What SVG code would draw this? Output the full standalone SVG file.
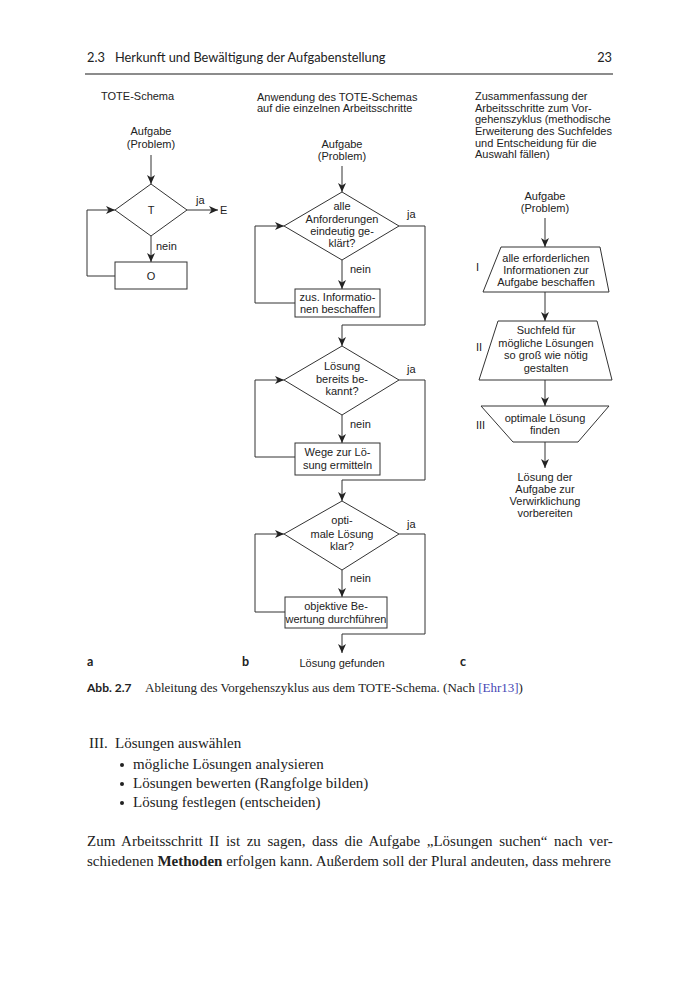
<svg xmlns="http://www.w3.org/2000/svg" width="700" height="1000" viewBox="0 0 700 1000">
<style>
.t{font-family:"Liberation Sans",Arial,sans-serif;font-size:11px;fill:#222}
.c{text-anchor:middle}
.sh{fill:none;stroke:#333;stroke-width:1}
.ln{fill:none;stroke:#333;stroke-width:1}
.hd{font-family:Lato,"Open Sans",sans-serif;font-size:12.8px;fill:#222}
.lb{font-family:Lato,"Open Sans",sans-serif;font-size:12.5px;font-weight:bold;fill:#222}
.sf{font-family:"Liberation Serif","Times New Roman",serif;font-size:15px;fill:#222}
.cap{font-family:"Liberation Serif","Times New Roman",serif;font-size:13px;fill:#222}
</style>
<defs>
<marker id="ah" markerWidth="10" markerHeight="8" refX="9" refY="4" orient="auto" markerUnits="userSpaceOnUse">
<path d="M0,0 L9,4 L0,8 L2.5,4 z" fill="#222"/>
</marker>
</defs>
<rect width="700" height="1000" fill="#fff"/>
<g id="header">
<text class="hd" x="87" y="62">2.3</text>
<text class="hd" x="115" y="62">Herkunft und Bewältigung der Aufgabenstellung</text>
<text class="hd" x="612" y="62" text-anchor="end">23</text>
<line x1="85" y1="74" x2="613" y2="74" stroke="#666" stroke-width="1.3"/>
</g>
<g id="titles">
<text class="t" x="101" y="100">TOTE-Schema</text>
<text class="t" x="257" y="101">Anwendung des TOTE-Schemas</text>
<text class="t" x="257" y="112">auf die einzelnen Arbeitsschritte</text>
<text class="t" x="475" y="100">Zusammenfassung der</text>
<text class="t" x="475" y="112">Arbeitsschritte zum Vor-</text>
<text class="t" x="475" y="123">gehenszyklus (methodische</text>
<text class="t" x="475" y="135">Erweiterung des Suchfeldes</text>
<text class="t" x="475" y="147">und Entscheidung für die</text>
<text class="t" x="475" y="158">Auswahl fällen)</text>
</g>
<g id="connectors">
<line class="ln" x1="151" y1="155" x2="151" y2="184" marker-end="url(#ah)"/>
<line class="ln" x1="187" y1="210" x2="218" y2="210" marker-end="url(#ah)"/>
<line class="ln" x1="151" y1="236" x2="151" y2="262" marker-end="url(#ah)"/>
<polyline class="ln" points="115,276 87,276 87,210 115,210" marker-end="url(#ah)"/>
<line class="ln" x1="342" y1="166" x2="342" y2="192" marker-end="url(#ah)"/>
<polyline class="ln" points="399,226 425,226 425,325 342,325 342,346" marker-end="url(#ah)"/>
<line class="ln" x1="342" y1="260" x2="342" y2="289" marker-end="url(#ah)"/>
<polyline class="ln" points="295,303 255,303 255,226 284,226" marker-end="url(#ah)"/>
<polyline class="ln" points="399,380 425,380 425,480 342,480 342,501" marker-end="url(#ah)"/>
<line class="ln" x1="342" y1="415" x2="342" y2="443" marker-end="url(#ah)"/>
<polyline class="ln" points="295,457 255,457 255,380 284,380" marker-end="url(#ah)"/>
<polyline class="ln" points="399,534 425,534 425,634 342,634 342,653" marker-end="url(#ah)"/>
<line class="ln" x1="342" y1="570" x2="342" y2="597" marker-end="url(#ah)"/>
<polyline class="ln" points="285,612 255,612 255,534 284,534" marker-end="url(#ah)"/>
<line class="ln" x1="545" y1="218" x2="545" y2="247" marker-end="url(#ah)"/>
<line class="ln" x1="545" y1="292" x2="545" y2="321" marker-end="url(#ah)"/>
<line class="ln" x1="545" y1="380" x2="545" y2="406" marker-end="url(#ah)"/>
<line class="ln" x1="545" y1="442" x2="545" y2="468" marker-end="url(#ah)"/>
</g>
<g id="a-start"><text class="t c" x="151" y="135">Aufgabe</text><text class="t c" x="151" y="148">(Problem)</text></g>
<g id="a-test"><polygon class="sh" points="151,184 187,210 151,236 115,210"/><text class="t c" x="151" y="214">T</text></g>
<g id="a-labels"><text class="t" x="196" y="204">ja</text><text class="t" x="220" y="214">E</text><text class="t" x="156" y="250">nein</text></g>
<g id="a-op"><rect class="sh" x="115" y="262" width="72" height="27"/><text class="t c" x="151" y="280">O</text></g>
<g id="b-start"><text class="t c" x="342" y="148">Aufgabe</text><text class="t c" x="342" y="160">(Problem)</text></g>
<g id="b-d1"><polygon class="sh" points="342,192 399,226 342,260 284,226"/>
<text class="t c" x="342" y="210">alle</text><text class="t c" x="342" y="223">Anforderungen</text><text class="t c" x="342" y="235">eindeutig ge-</text><text class="t c" x="342" y="247">klärt?</text></g>
<g id="b-l1"><text class="t" x="407" y="218">ja</text><text class="t" x="350" y="273">nein</text></g>
<g id="b-b1"><rect class="sh" x="295" y="289" width="85" height="28"/><text class="t c" x="337.5" y="301">zus. Informatio-</text><text class="t c" x="337.5" y="313">nen beschaffen</text></g>
<g id="b-d2"><polygon class="sh" points="342,346 399,380 342,415 284,380"/>
<text class="t c" x="342" y="370">Lösung</text><text class="t c" x="342" y="383">bereits be-</text><text class="t c" x="342" y="395">kannt?</text></g>
<g id="b-l2"><text class="t" x="407" y="373">ja</text><text class="t" x="350" y="428">nein</text></g>
<g id="b-b2"><rect class="sh" x="295" y="443" width="85" height="32"/><text class="t c" x="337.5" y="456">Wege zur Lö-</text><text class="t c" x="337.5" y="469">sung ermitteln</text></g>
<g id="b-d3"><polygon class="sh" points="342,501 399,534 342,570 284,534"/>
<text class="t c" x="342" y="524">opti-</text><text class="t c" x="342" y="538">male Lösung</text><text class="t c" x="342" y="550">klar?</text></g>
<g id="b-l3"><text class="t" x="407" y="528">ja</text><text class="t" x="350" y="582">nein</text></g>
<g id="b-b3"><rect class="sh" x="285" y="597" width="102" height="31"/><text class="t c" x="336" y="610">objektive Be-</text><text class="t c" x="336" y="623">wertung durchführen</text></g>
<g id="b-end"><text class="t c" x="342" y="667">Lösung gefunden</text></g>
<g id="c-start"><text class="t c" x="545" y="200">Aufgabe</text><text class="t c" x="545" y="212">(Problem)</text></g>
<g id="c-1"><polygon class="sh" points="501,247 600,247 609,292 483,292"/>
<text class="t c" x="546" y="262">alle erforderlichen</text><text class="t c" x="546" y="274">Informationen zur</text><text class="t c" x="546" y="286">Aufgabe beschaffen</text><text class="t" x="476" y="271">I</text></g>
<g id="c-2"><polygon class="sh" points="498,321 597,321 612,380 479,380"/>
<text class="t c" x="546" y="334">Suchfeld für</text><text class="t c" x="546" y="347">mögliche Lösungen</text><text class="t c" x="546" y="359">so groß wie nötig</text><text class="t c" x="546" y="372">gestalten</text><text class="t" x="476" y="351">II</text></g>
<g id="c-3"><polygon class="sh" points="481,406 609,406 578,442 513,442"/>
<text class="t c" x="545" y="422">optimale Lösung</text><text class="t c" x="545" y="434">finden</text><text class="t" x="476" y="429">III</text></g>
<g id="c-end"><text class="t c" x="545" y="481">Lösung der</text><text class="t c" x="545" y="493">Aufgabe zur</text><text class="t c" x="545" y="505">Verwirklichung</text><text class="t c" x="545" y="517">vorbereiten</text></g>
<g id="panel-labels"><text class="lb" x="87" y="666">a</text><text class="lb" x="242" y="666">b</text><text class="lb" x="460" y="666">c</text></g>
<g id="caption">
<text class="lb" x="87" y="692" style="font-size:12px">Abb. 2.7</text>
<text class="cap" x="145" y="692">Ableitung des Vorgehenszyklus aus dem TOTE-Schema. (Nach <tspan fill="#4646b4">[Ehr13]</tspan>)</text>
</g>
<g id="body">
<text class="sf" x="89" y="748">III.</text>
<text class="sf" x="115" y="748">Lösungen auswählen</text>
<circle cx="122" cy="765" r="2" fill="#222"/>
<text class="sf" x="133" y="769">mögliche Lösungen analysieren</text>
<circle cx="122" cy="784" r="2" fill="#222"/>
<text class="sf" x="133" y="788">Lösungen bewerten (Rangfolge bilden)</text>
<circle cx="122" cy="803" r="2" fill="#222"/>
<text class="sf" x="133" y="807">Lösung festlegen (entscheiden)</text>
<text class="sf" x="87" y="846" word-spacing="2.85">Zum Arbeitsschritt II ist zu sagen, dass die Aufgabe „Lösungen suchen“ nach ver-</text>
<text class="sf" x="87" y="866">schiedenen <tspan font-weight="bold">Methoden</tspan> erfolgen kann. Außerdem soll der Plural andeuten, dass mehrere</text>
</g>
</svg>
